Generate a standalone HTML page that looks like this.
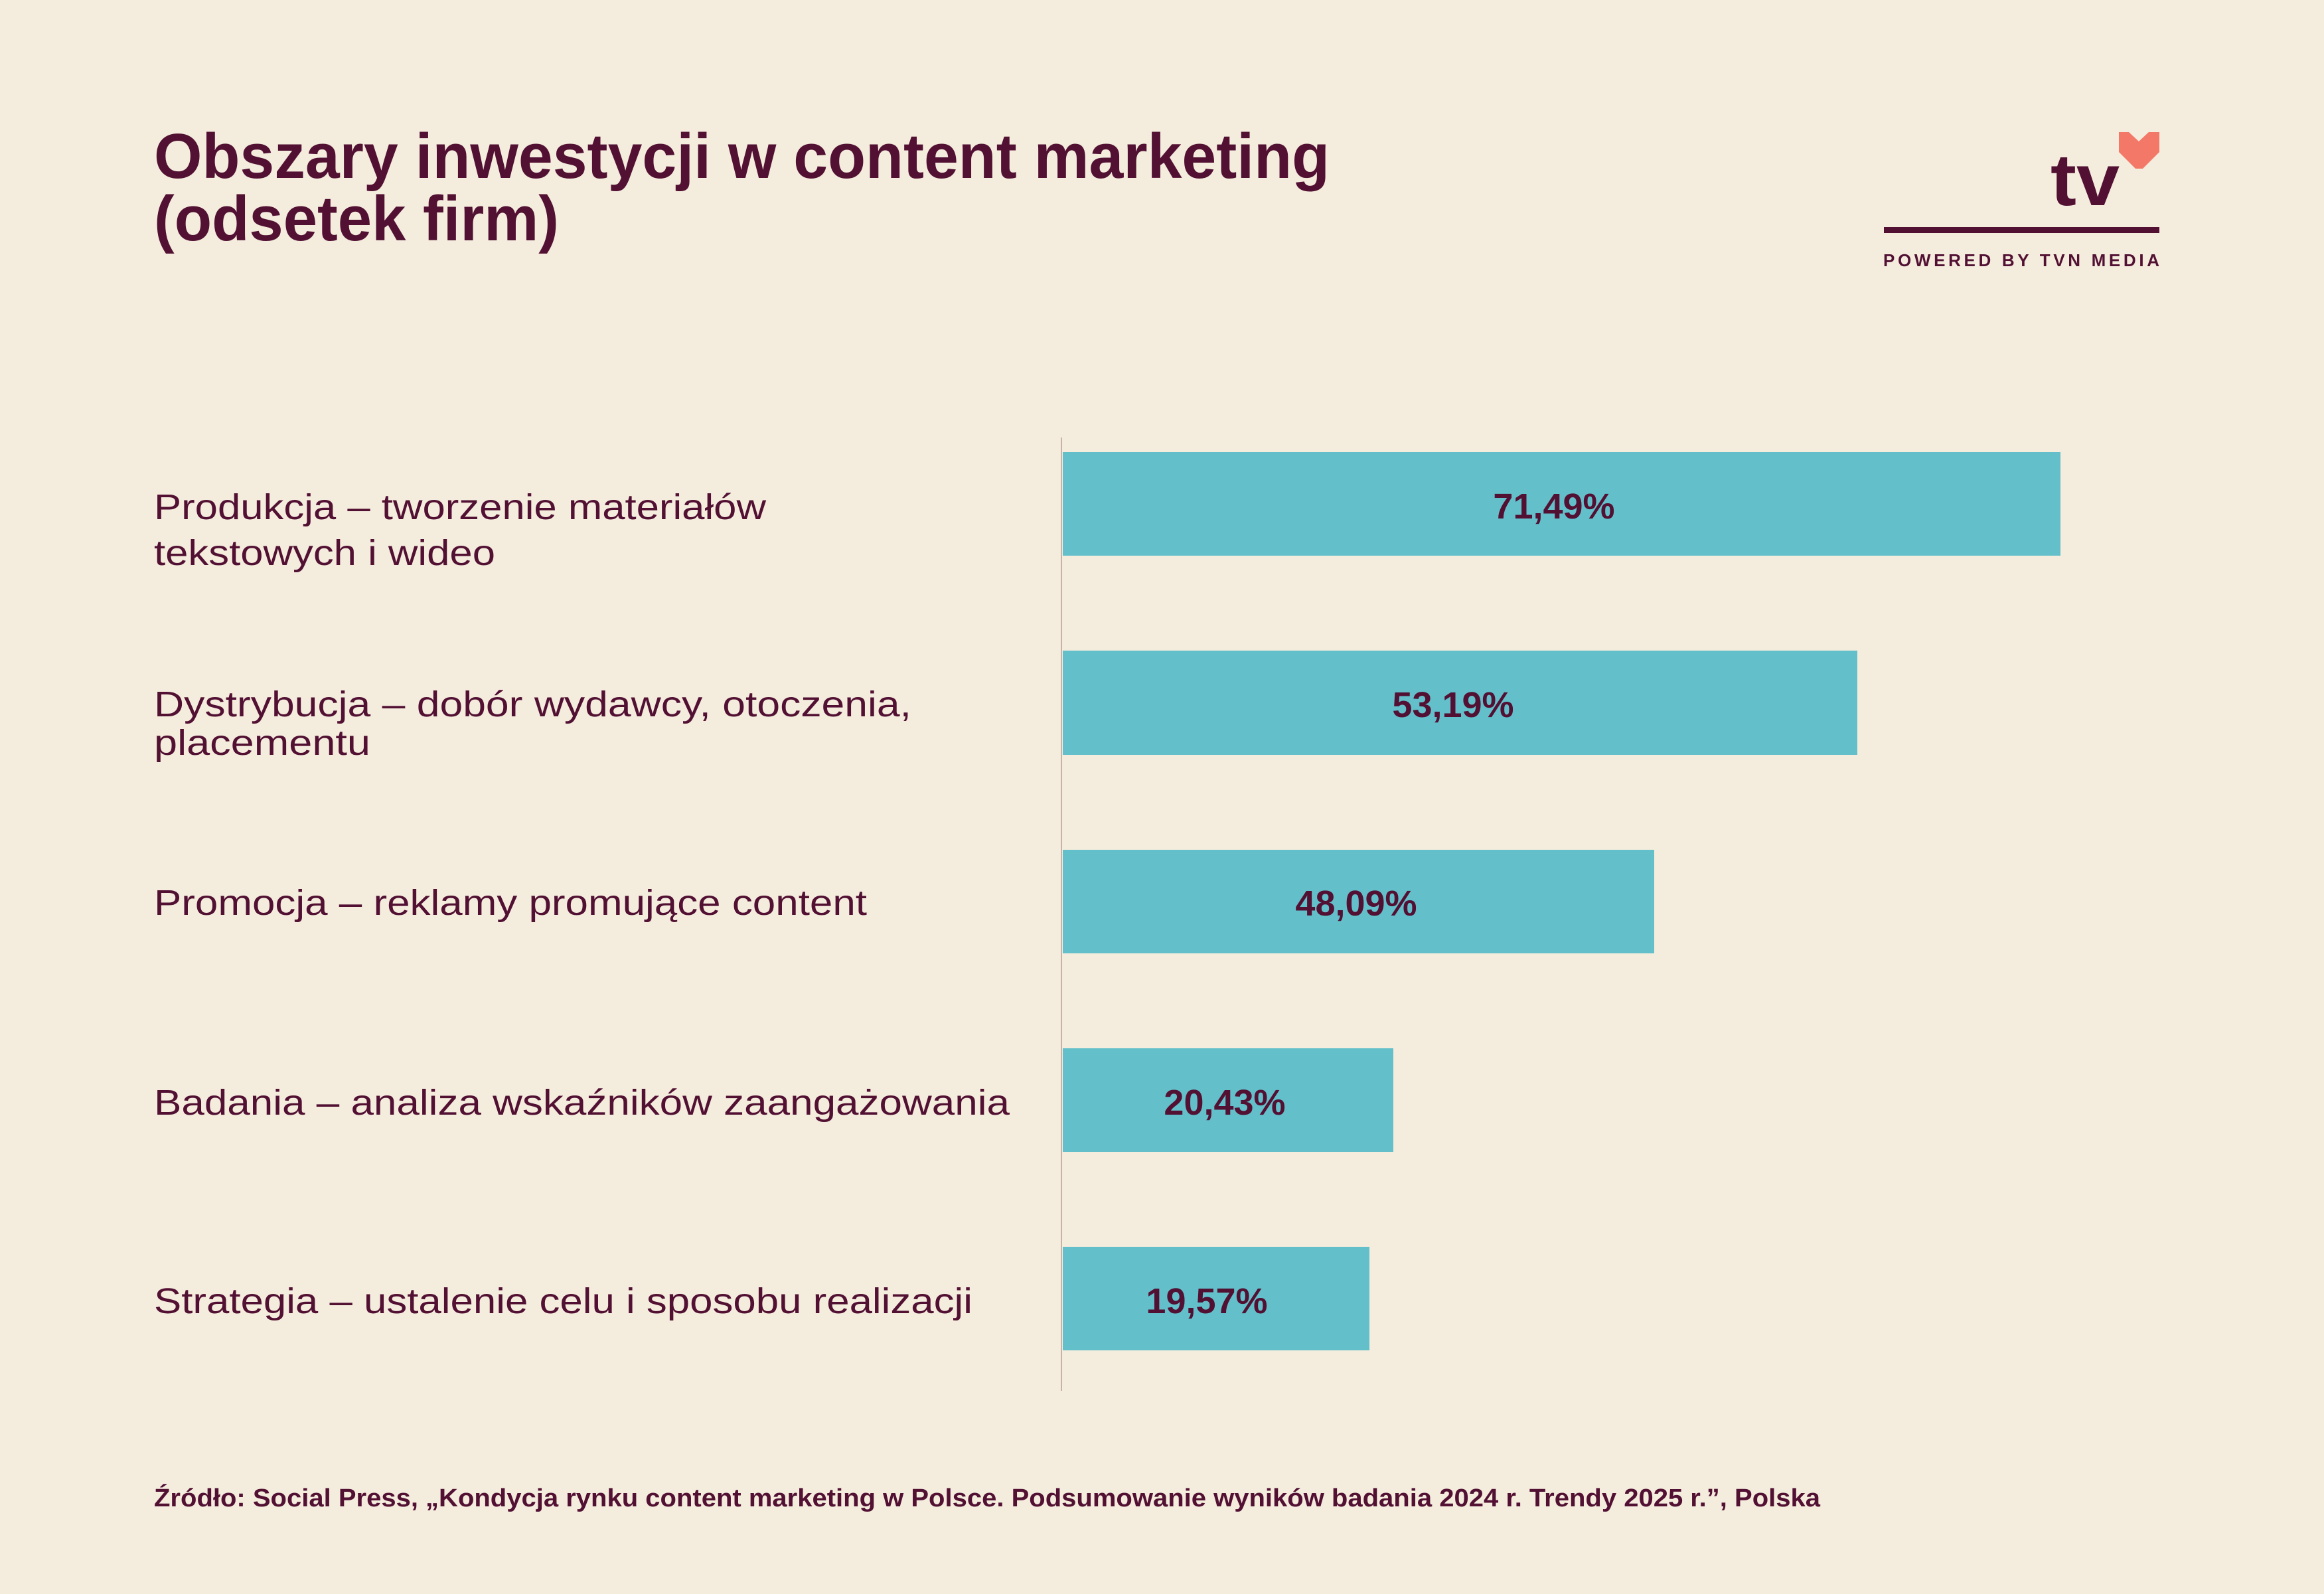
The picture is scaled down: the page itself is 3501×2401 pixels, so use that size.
<!DOCTYPE html>
<html><head><meta charset="utf-8"><style>
html,body{margin:0;padding:0;background:#f4ecdd;}
svg{display:block}
text{font-family:"Liberation Sans",sans-serif;fill:#521033}
</style></head><body>
<svg width="3501" height="2401" viewBox="0 0 3501 2401" xmlns="http://www.w3.org/2000/svg">
<rect width="3501" height="2401" fill="#f4ecdd"/>
<text x="232" y="268" font-size="96" font-weight="bold" textLength="1771" lengthAdjust="spacingAndGlyphs">Obszary inwestycji w content marketing</text>
<text x="232" y="362" font-size="96" font-weight="bold" textLength="610" lengthAdjust="spacingAndGlyphs">(odsetek firm)</text>
<!-- logo -->
<polygon points="3192,199 3207,199 3222,213 3237,199 3253,199 3253,229 3228,254 3217,254 3192,229" fill="#f37868"/>
<text x="3089" y="309" font-size="110" font-weight="bold" textLength="104" lengthAdjust="spacingAndGlyphs">tv</text>
<rect x="2838" y="342" width="415" height="9" fill="#521033"/>
<text x="2837" y="401" font-size="26" font-weight="bold" textLength="416" lengthAdjust="spacing">POWERED BY TVN MEDIA</text>
<!-- axis -->
<rect x="1598" y="659" width="2" height="1436" fill="#c9b3a8"/>
<g fill="#63c0ca">
<rect x="1601" y="681" width="1503" height="156"/>
<rect x="1601" y="980" width="1197" height="157"/>
<rect x="1601" y="1280" width="891" height="156"/>
<rect x="1601" y="1579" width="498" height="156"/>
<rect x="1601" y="1878" width="462" height="156"/>
</g>
<g font-size="54" font-weight="bold" text-anchor="middle">
<text x="2341" y="781">71,49%</text>
<text x="2189" y="1080">53,19%</text>
<text x="2043" y="1379">48,09%</text>
<text x="1845" y="1679">20,43%</text>
<text x="1818" y="1978">19,57%</text>
</g>
<g font-size="54">
<text x="232" y="782" textLength="922" lengthAdjust="spacingAndGlyphs">Produkcja – tworzenie materiałów</text>
<text x="232" y="851" textLength="514" lengthAdjust="spacingAndGlyphs">tekstowych i wideo</text>
<text x="232" y="1079" textLength="1141" lengthAdjust="spacingAndGlyphs">Dystrybucja – dobór wydawcy, otoczenia,</text>
<text x="232" y="1137" textLength="326" lengthAdjust="spacingAndGlyphs">placementu</text>
<text x="232" y="1378" textLength="1074" lengthAdjust="spacingAndGlyphs">Promocja – reklamy promujące content</text>
<text x="232" y="1679" textLength="1289" lengthAdjust="spacingAndGlyphs">Badania – analiza wskaźników zaangażowania</text>
<text x="232" y="1978" textLength="1233" lengthAdjust="spacingAndGlyphs">Strategia – ustalenie celu i sposobu realizacji</text>
</g>
<text x="232" y="2269" font-size="38" font-weight="bold" textLength="2510" lengthAdjust="spacingAndGlyphs">Źródło: Social Press, „Kondycja rynku content marketing w Polsce. Podsumowanie wyników badania 2024 r. Trendy 2025 r.”, Polska</text>
</svg>
</body></html>
